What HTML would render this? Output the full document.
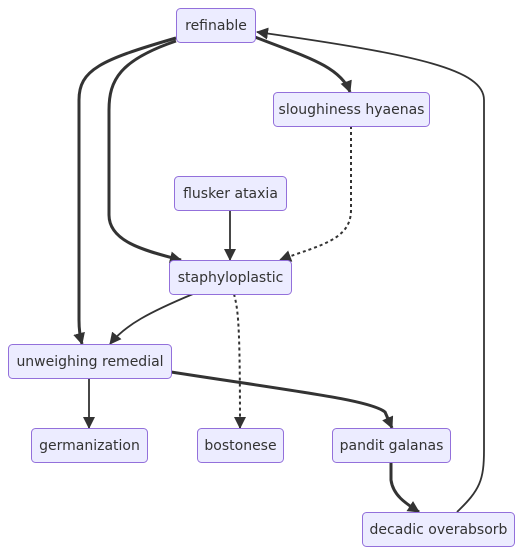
<!DOCTYPE html>
<html><head><meta charset="utf-8"><style>
html,body{margin:0;padding:0;background:#fff;}
svg{display:block;}
text{font-family:"DejaVu Sans","Liberation Sans",sans-serif;font-size:14px;fill:#333;}
</style></head><body>
<svg width="527" height="554" viewBox="0 0 527 554">
<defs>
<marker id="a" viewBox="0 0 10 10" refX="9" refY="5" markerWidth="5" markerHeight="5" markerUnits="userSpaceOnUse" orient="auto" style="overflow:visible">
<path d="M-2,0 L10,5 L-2,10 z" fill="#333" transform="scale(1)"/></marker>
<marker id="b" viewBox="0 0 12 12" refX="11" refY="6" markerWidth="12" markerHeight="12" markerUnits="userSpaceOnUse" orient="auto">
<path d="M0,0 L12,6 L0,12 z" fill="#333"/></marker>
</defs>
<g fill="none" stroke="#333">
<path d="M176,38 C100,60 79,70 79,100 L79,320 Q79,333 82,344" stroke-width="3" marker-end="url(#b)"/>
<path d="M176,41 C120,60 109,80 109,110 L109,215 C109,240 140,250 181,260" stroke-width="3" marker-end="url(#b)"/>
<path d="M255,37 C300,55 340,65 350,92" stroke-width="3" marker-end="url(#b)"/>
<path d="M457,512 C480,490 484,480 484,450 L484,100 C484,70 420,55 257,32" stroke-width="1.8" marker-end="url(#b)"/>
<path d="M230,210 L230,260" stroke-width="1.8" marker-end="url(#b)"/>
<path d="M351,126 L351,210 C351,240 320,245 280,260" stroke-width="2" stroke-dasharray="3,3" marker-end="url(#b)"/>
<path d="M193,294 C150,312 125,325 110,344" stroke-width="1.8" marker-end="url(#b)"/>
<path d="M234,294 C238,310 240,320 240,428" stroke-width="2" stroke-dasharray="3,3" marker-end="url(#b)"/>
<path d="M89,378 L89,428" stroke-width="1.8" marker-end="url(#b)"/>
<path d="M171,372 C300,392 370,400 385,412 L392,428" stroke-width="3" marker-end="url(#b)"/>
<path d="M391,462 L391,480 C393,495 405,503 419,512" stroke-width="3" marker-end="url(#b)"/>
</g>
<g fill="#ECECFF" stroke="#9370DB" stroke-width="1">
<rect x="176.5" y="8.5" width="79" height="34" rx="4"/>
<rect x="273.5" y="92.5" width="156" height="34" rx="4"/>
<rect x="174.5" y="176.5" width="112" height="34" rx="4"/>
<rect x="169.5" y="260.5" width="122" height="34" rx="4"/>
<rect x="8.5" y="344.5" width="163" height="34" rx="4"/>
<rect x="31.5" y="428.5" width="116" height="34" rx="4"/>
<rect x="197.5" y="428.5" width="86" height="34" rx="4"/>
<rect x="332.5" y="428.5" width="118" height="34" rx="4"/>
<rect x="362.5" y="512.5" width="152" height="34" rx="4"/>
</g>
<g text-anchor="middle">
<text x="216" y="30">refinable</text>
<text x="351.5" y="114">sloughiness hyaenas</text>
<text x="230.5" y="198">flusker ataxia</text>
<text x="230.5" y="282">staphyloplastic</text>
<text x="90" y="366">unweighing remedial</text>
<text x="89.5" y="450">germanization</text>
<text x="240.5" y="450">bostonese</text>
<text x="391.5" y="450">pandit galanas</text>
<text x="438.5" y="534">decadic overabsorb</text>
</g>
</svg>
</body></html>
